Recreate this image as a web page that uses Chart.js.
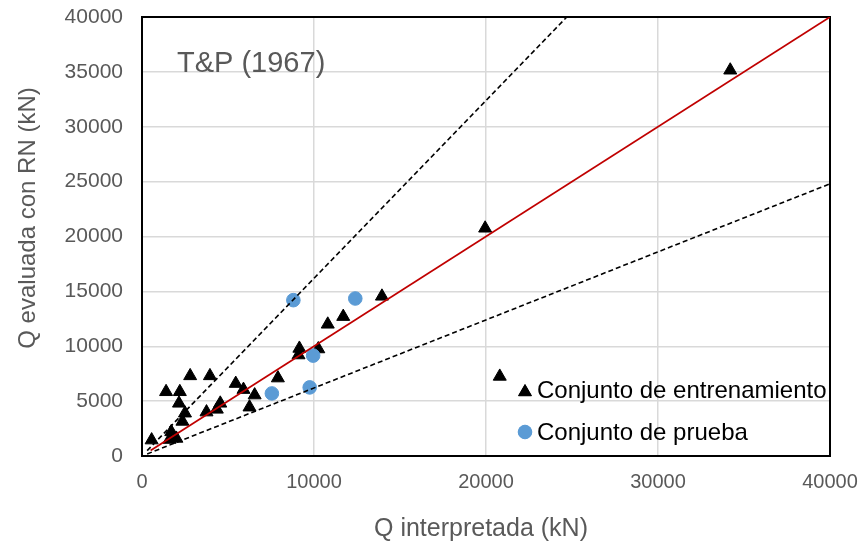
<!DOCTYPE html>
<html>
<head>
<meta charset="utf-8">
<script src="https://cdn.jsdelivr.net/npm/chart.js@4.4.1/dist/chart.umd.min.js"></script>
<style>
  html, body { margin: 0; padding: 0; background: #fff; }
</style>
</head>
<body>
<canvas id="chart" width="864" height="548"></canvas>
<script>
// Q interpretada (x) vs Q evaluada con RN (y), kN
const trainX = [560, 1600, 2000, 1700, 2350, 2500, 2150, 1400, 2200, 2800, 3950, 3750, 4350, 4550,
  5450, 5900, 6550, 6250, 7900, 9150, 9100, 10250, 10800, 11700, 13950, 19950, 20800, 34200];
const trainY = [1450, 1500, 1600, 2200, 3150, 3900, 4800, 5850, 5850, 7300, 7300, 4000, 4250, 4800,
  6600, 6050, 5550, 4450, 7100, 9800, 9200, 9750, 12000, 12700, 14550, 20750, 7250, 35150];

const testX = [8800, 12400, 9950, 9750, 7550];
const testY = [14200, 14350, 9150, 6250, 5700];

// 1:1 line and the upper / lower bounds
const lineX = [500, 40000];
const lineY = [500, 40000];
const upperX = [300, 24700];
const upperY = [486, 40000];
const lowerX = [300, 40000];
const lowerY = [186, 24800];

const xTicks = [0, 10000, 20000, 30000, 40000];
const yTicks = [0, 5000, 10000, 15000, 20000, 25000, 30000, 35000, 40000];

const seriesNames = ['Conjunto de entrenamiento', 'Conjunto de prueba'];
const panelTitle = 'T&P (1967)';
const xTitle = 'Q interpretada (kN)';
const yTitle = 'Q evaluada con RN (kN)';

const FONT = '"Liberation Sans", Arial, sans-serif';
const GREY = '#595959';
const BLUE = '#5b9bd5';
const TRI_R = 7.5;
const DOT_R = 6.8;

const pts = (xs, ys) => xs.map((x, i) => ({ x: x, y: ys[i] }));

const frame = {
  id: 'frame',
  beforeDatasetsDraw(chart) {
    const { ctx, chartArea: a } = chart;
    ctx.save();
    ctx.strokeStyle = '#000';
    ctx.lineWidth = 2;
    ctx.strokeRect(a.left, a.top, a.right - a.left, a.bottom - a.top);
    ctx.restore();
  },
  afterDraw(chart) {
    const { ctx, chartArea: a } = chart;
    ctx.save();

    // panel label
    ctx.fillStyle = GREY;
    ctx.font = '29px ' + FONT;
    ctx.textAlign = 'left';
    ctx.textBaseline = 'alphabetic';
    ctx.fillText(panelTitle, a.left + 35, a.top + 55);

    // axis titles
    ctx.font = '25px ' + FONT;
    ctx.textAlign = 'center';
    ctx.textBaseline = 'middle';
    ctx.fillText(xTitle, 481, 529);
    ctx.save();
    ctx.translate(28, 218);
    ctx.rotate(-Math.PI / 2);
    ctx.font = '24px ' + FONT;
    ctx.fillText(yTitle, 0, 0);
    ctx.restore();

    // legend inside the plot
    const lx = a.left + 383;
    const rows = [a.top + 373, a.top + 415];
    const styles = [
      { pointStyle: 'triangle', radius: TRI_R, rotation: 0, borderWidth: 1, color: '#000' },
      { pointStyle: 'circle', radius: DOT_R, rotation: 0, borderWidth: 1, color: BLUE }
    ];
    styles.forEach((s, i) => {
      ctx.fillStyle = s.color;
      ctx.strokeStyle = s.color;
      ctx.lineWidth = s.borderWidth;
      Chart.helpers.drawPoint(ctx, s, lx, rows[i] + (i === 0 ? 2 : 0));
      ctx.fill();
    });
    ctx.fillStyle = '#000';
    ctx.font = '24px ' + FONT;
    ctx.textAlign = 'left';
    ctx.textBaseline = 'middle';
    seriesNames.forEach((n, i) => ctx.fillText(n, lx + 12, rows[i] + 1));

    ctx.restore();
  }
};

new Chart(document.getElementById('chart').getContext('2d'), {
  type: 'scatter',
  data: {
    datasets: [
      {
        data: pts(lineX, lineY), showLine: true, borderColor: '#c00000', borderWidth: 1.75,
        pointRadius: 0, fill: false
      },
      {
        data: pts(upperX, upperY), showLine: true, borderColor: '#000', borderWidth: 1.6,
        borderDash: [5, 3], pointRadius: 0, fill: false
      },
      {
        data: pts(lowerX, lowerY), showLine: true, borderColor: '#000', borderWidth: 1.6,
        borderDash: [5, 3], pointRadius: 0, fill: false
      },
      {
        label: seriesNames[1], data: pts(testX, testY), pointStyle: 'circle', pointRadius: DOT_R,
        backgroundColor: BLUE, borderColor: BLUE, borderWidth: 1
      },
      {
        label: seriesNames[0], data: pts(trainX, trainY), pointStyle: 'triangle', pointRadius: TRI_R,
        backgroundColor: '#000', borderColor: '#000', borderWidth: 1
      }
    ]
  },
  options: {
    responsive: false,
    devicePixelRatio: 1,
    animation: false,
    events: [],
    layout: { padding: { top: 17, right: 34, left: 0, bottom: 0 } },
    plugins: { legend: { display: false }, tooltip: { enabled: false } },
    scales: {
      x: {
        type: 'linear', min: 0, max: 40000,
        afterFit: s => { s.height = 92; s.paddingLeft = 0; s.paddingRight = 0; },
        afterBuildTicks: s => { s.ticks = xTicks.map(v => ({ value: v })); },
        ticks: { color: GREY, font: { family: FONT, size: 20 }, padding: 14, maxRotation: 0, callback: v => v },
        grid: { color: '#d9d9d9', lineWidth: 1.5, drawTicks: false },
        border: { display: false }
      },
      y: {
        type: 'linear', min: 0, max: 40000,
        afterFit: s => { s.width = 142; s.paddingTop = 0; s.paddingBottom = 0; },
        afterBuildTicks: s => { s.ticks = yTicks.map(v => ({ value: v })); },
        ticks: { color: GREY, font: { family: FONT, size: 21 }, padding: 19, callback: v => v },
        grid: { color: '#d9d9d9', lineWidth: 1.5, drawTicks: false },
        border: { display: false }
      }
    }
  },
  plugins: [frame]
});
</script>
</body>
</html>
